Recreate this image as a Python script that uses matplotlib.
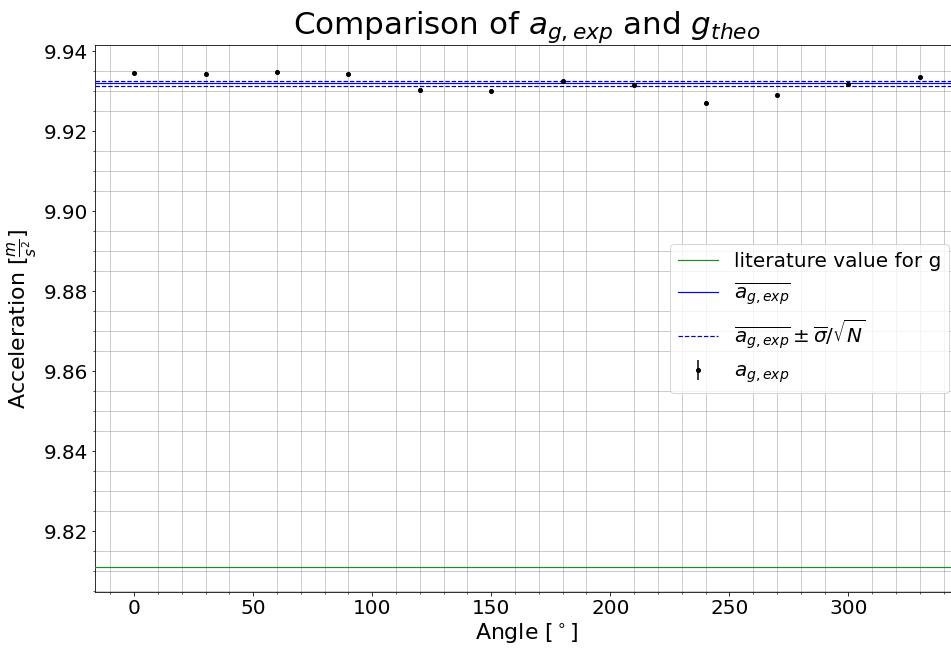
"""
Comparison of the measured gravitational acceleration per angle
with the literature value.
"""

import numpy as np
import matplotlib
matplotlib.use('Agg')
import matplotlib.pyplot as plt

angles = [0, 30, 60, 90, 120, 150, 180, 210, 240, 270, 300, 330]
a_g = [9.9346, 9.9344, 9.9349, 9.9342, 9.9303, 9.9301,
       9.9325, 9.9316, 9.9271, 9.9290, 9.9319, 9.9335]
a_g_err = [0.0004] * 12
g_theo = 9.811
sem = 0.00063   # sigma_bar / sqrt(N)

a_mean = np.mean(a_g)

fig = plt.figure(figsize=(951 / 72, 648 / 72), dpi=72)
ax = fig.add_axes([0.0999, 0.0864, 0.9085, 0.844])

ax.axhline(g_theo, color='#228b22', lw=1.2, zorder=3, label='literature value for g')
ax.axhline(a_mean, color='blue', lw=1.2, zorder=3, label=r'$\overline{a_{g,exp}}$')
ax.axhline(a_mean + sem, color='mediumblue', lw=1.2, ls='--', zorder=3,
           label=r'$\overline{a_{g,exp}} \pm \overline{\sigma}/\sqrt{N}$')
ax.axhline(a_mean - sem, color='mediumblue', lw=1.2, ls='--', zorder=3)
ax.errorbar(angles, a_g, yerr=a_g_err, fmt='k.', ms=8, zorder=4, label=r'$a_{g,exp}$')

ax.set_xlim(-16.5, 346.5)
ax.minorticks_on()
ax.grid(which='minor', color='grey', alpha=0.5)
ax.tick_params(labelsize=20)

ax.set_title(r'Comparison of $a_{g,exp}$ and $g_{theo}$', fontsize=31)
ax.set_xlabel(r'Angle [$^\circ$]', fontsize=22)
ax.set_ylabel(r'Acceleration [$\frac{m}{s^2}$]', fontsize=22)
ax.legend(loc='center right', fontsize=20)

fig.savefig('out.png', dpi=72)
